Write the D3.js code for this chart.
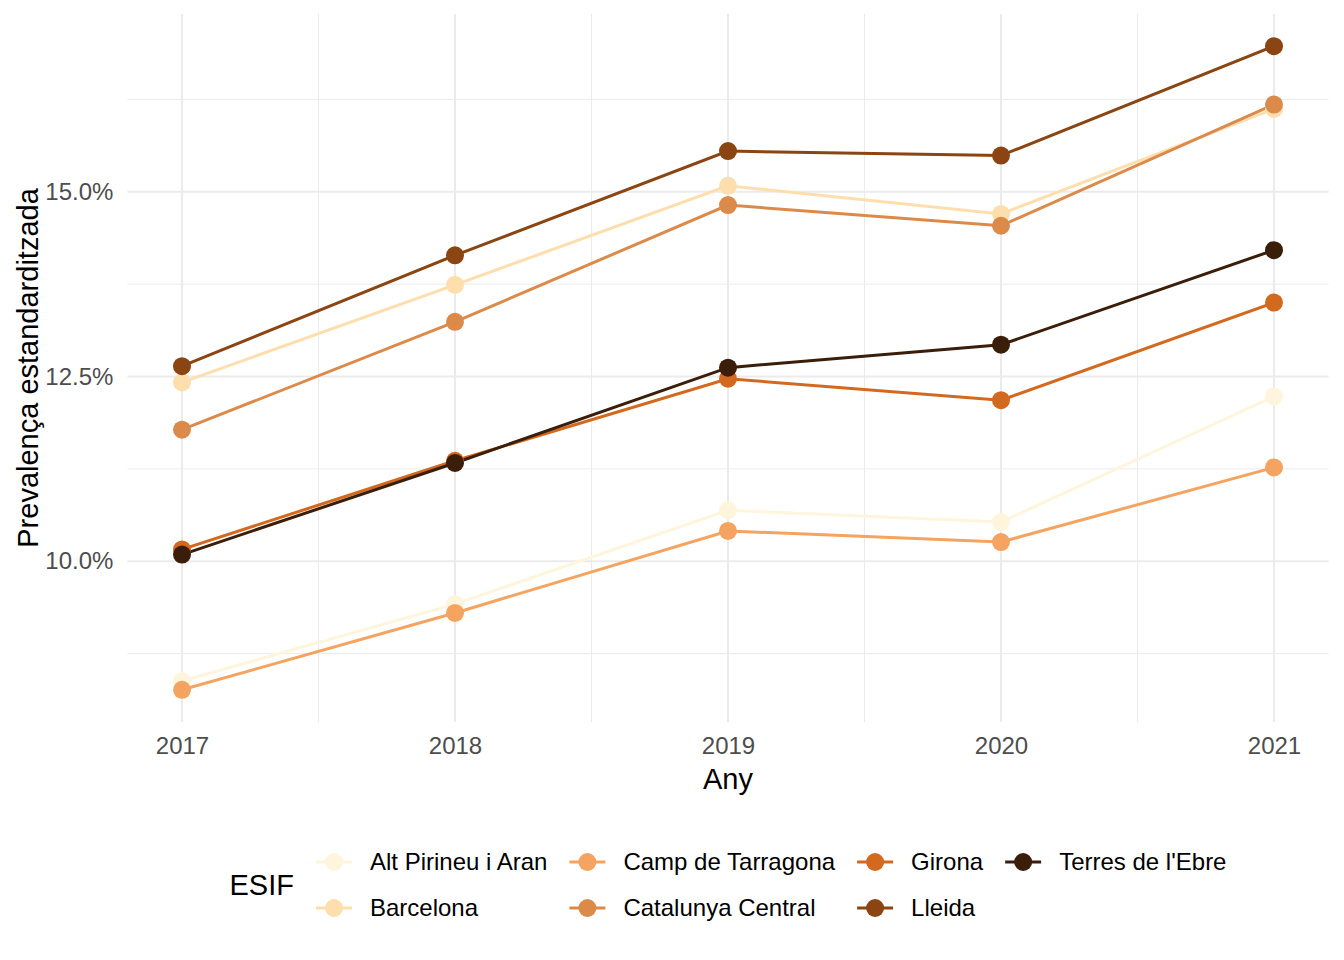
<!DOCTYPE html>
<html>
<head>
<meta charset="utf-8">
<script src="https://cdn.jsdelivr.net/npm/d3@7"></script>
<style>
  body { margin: 0; background: #fff; }
  svg { font-family: "Liberation Sans", Arial, sans-serif; }
</style>
</head>
<body>
<div id="chart"></div>
<script>
// data
const years = [2017, 2018, 2019, 2020, 2021];
const regions = ["Alt Pirineu i Aran", "Barcelona", "Camp de Tarragona", "Catalunya Central", "Girona", "Lleida", "Terres de l'Ebre"];
const regionColors = ["#FFF5DC", "#FFDEAD", "#F4A460", "#DB8A4A", "#D2691E", "#8B4513", "#3B1E0A"];

const altPirineu = [8.38, 9.42, 10.69, 10.53, 12.23];
const barcelona = [12.42, 13.74, 15.08, 14.70, 16.12];
const campTarragona = [8.26, 9.30, 10.41, 10.26, 11.27];
const catalunyaCentral = [11.78, 13.24, 14.82, 14.54, 16.18];
const girona = [10.16, 11.36, 12.47, 12.18, 13.50];
const lleida = [12.64, 14.14, 15.55, 15.49, 16.97];
const terresEbre = [10.09, 11.33, 12.62, 12.93, 14.21];

const yTicks = [10, 12.5, 15];

const seriesValues = [altPirineu, barcelona, campTarragona, catalunyaCentral, girona, lleida, terresEbre];
const series = regions.map((name, i) => ({
    name: name,
    color: regionColors[i],
    values: years.map((yr, j) => ({ year: yr, value: seriesValues[i][j] }))
}));

const width = 1344, height = 960;
const margin = { top: 14, right: 15.4, bottom: 238, left: 127.4 };

const svg = d3.select("#chart").append("svg")
    .attr("width", width)
    .attr("height", height);

// scales with ggplot-style 5% expansion
const allVals = seriesValues.flat();
const yMin = d3.min(allVals), yMax = d3.max(allVals);
const yPad = (yMax - yMin) * 0.05;
const xPad = (years[years.length - 1] - years[0]) * 0.05;

const x = d3.scaleLinear()
    .domain([years[0] - xPad, years[years.length - 1] + xPad])
    .range([margin.left, width - margin.right]);
const y = d3.scaleLinear()
    .domain([yMin - yPad, yMax + yPad])
    .range([height - margin.bottom, margin.top]);

const grid = svg.append("g");

// minor gridlines (midpoints between majors)
const yMinor = [8.75, 11.25, 13.75, 16.25];
const xMinor = years.slice(1).map((d, i) => (d + years[i]) / 2);

grid.selectAll(".ymin").data(yMinor).enter().append("line")
    .attr("x1", margin.left).attr("x2", width - margin.right)
    .attr("y1", d => y(d)).attr("y2", d => y(d))
    .attr("stroke", "#EBEBEB").attr("stroke-width", 1);
grid.selectAll(".xmin").data(xMinor).enter().append("line")
    .attr("y1", margin.top).attr("y2", height - margin.bottom)
    .attr("x1", d => x(d)).attr("x2", d => x(d))
    .attr("stroke", "#EBEBEB").attr("stroke-width", 1);

// major gridlines
grid.selectAll(".ymaj").data(yTicks).enter().append("line")
    .attr("x1", margin.left).attr("x2", width - margin.right)
    .attr("y1", d => y(d)).attr("y2", d => y(d))
    .attr("stroke", "#EBEBEB").attr("stroke-width", 2);
grid.selectAll(".xmaj").data(years).enter().append("line")
    .attr("y1", margin.top).attr("y2", height - margin.bottom)
    .attr("x1", d => x(d)).attr("x2", d => x(d))
    .attr("stroke", "#EBEBEB").attr("stroke-width", 2);

// axes (text only, like theme_minimal)
const xAxis = svg.append("g")
    .attr("transform", `translate(0,${height - margin.bottom})`)
    .call(d3.axisBottom(x).tickValues(years).tickFormat(d3.format("d")).tickSize(0).tickPadding(15));
xAxis.select(".domain").remove();
xAxis.selectAll("text")
    .attr("fill", "#4D4D4D")
    .style("font-size", "24px")
    .attr("font-family", "Liberation Sans, Arial, sans-serif");

const yAxis = svg.append("g")
    .attr("transform", `translate(${margin.left},0)`)
    .call(d3.axisLeft(y).tickValues(yTicks).tickFormat(d => d3.format(".1f")(d) + "%").tickSize(0).tickPadding(14));
yAxis.select(".domain").remove();
yAxis.selectAll("text")
    .attr("fill", "#4D4D4D")
    .style("font-size", "24px")
    .attr("font-family", "Liberation Sans, Arial, sans-serif");

// axis titles
svg.append("text")
    .attr("x", (margin.left + width - margin.right) / 2)
    .attr("y", 789)
    .attr("text-anchor", "middle")
    .style("font-size", "29px")
    .attr("fill", "#000")
    .text("Any");

svg.append("text")
    .attr("transform", `translate(38,${(margin.top + height - margin.bottom) / 2}) rotate(-90)`)
    .attr("text-anchor", "middle")
    .style("font-size", "29px")
    .attr("fill", "#000")
    .text("Prevalença estandarditzada");

// lines then points
const line = d3.line()
    .x(d => x(d.year))
    .y(d => y(d.value));

svg.append("g").selectAll("path")
    .data(series).enter().append("path")
    .attr("d", d => line(d.values))
    .attr("fill", "none")
    .attr("stroke", d => d.color)
    .attr("stroke-width", 3);

const pts = svg.append("g");
series.forEach(s => {
    pts.selectAll(null)
        .data(s.values).enter().append("circle")
        .attr("cx", d => x(d.year))
        .attr("cy", d => y(d.value))
        .attr("r", 9)
        .attr("fill", s.color);
});

// legend: 2 rows, filled by column
const legend = svg.append("g");
const rowY = [862, 908];
const nCols = Math.ceil(regions.length / 2);

const title = legend.append("text")
    .attr("x", 0).attr("y", (rowY[0] + rowY[1]) / 2)
    .attr("dy", "0.35em")
    .style("font-size", "29px")
    .text("ESIF");
const titleW = title.node().getComputedTextLength();

let cx = titleW + 40; // key centre of first column
for (let c = 0; c < nCols; c++) {
    let maxW = 0;
    for (let r = 0; r < 2; r++) {
        const i = c * 2 + r;
        if (i >= series.length) continue;
        const s = series[i];
        const g = legend.append("g");
        g.append("line")
            .attr("x1", cx - 18).attr("x2", cx + 18)
            .attr("y1", rowY[r]).attr("y2", rowY[r])
            .attr("stroke", s.color).attr("stroke-width", 3);
        g.append("circle")
            .attr("cx", cx).attr("cy", rowY[r]).attr("r", 9)
            .attr("fill", s.color);
        const t = g.append("text")
            .attr("x", cx + 36).attr("y", rowY[r])
            .attr("dy", "0.35em")
            .style("font-size", "24px")
            .text(s.name);
        maxW = Math.max(maxW, t.node().getComputedTextLength());
    }
    if (c < nCols - 1) cx = cx + 36 + maxW + 40;
    else cx = cx + 36 + maxW;
}
const legendW = cx;
const center = (margin.left + width - margin.right) / 2;
legend.attr("transform", `translate(${center - legendW / 2},0)`);
</script>
</body>
</html>
